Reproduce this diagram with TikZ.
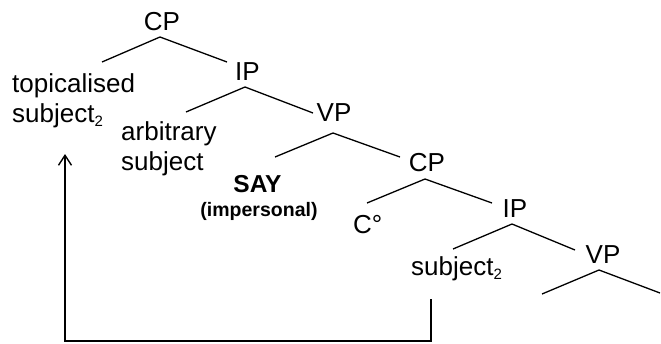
\documentclass[tikz,border=0pt]{standalone}
\usepackage{fontspec}
\setmainfont{Liberation Sans}
\usetikzlibrary{arrows.meta}
\newcommand{\subtwo}{\raisebox{-4.5pt}{\fontsize{15}{15}\selectfont 2}}
\tikzset{
  lbl/.style={inner sep=0pt, anchor=base, font=\fontsize{26}{30}\selectfont},
  lblw/.style={lbl, anchor=base west},
  branch/.style={line width=1.3pt},
  mv/.style={line width=1.4pt}
}
\begin{document}
\begin{tikzpicture}[x=1pt,y=-1pt]
\useasboundingbox (0,0) rectangle (661,343);
% labels
\node[lbl] (cp1) at (162,30) {CP};
\node[lbl] (ip1) at (247.5,80) {IP};
\node[lblw] (top1) at (12,92) {topicalised};
\node[lblw] (top2) at (12,122) {subject\subtwo};
\node[lblw] (arb1) at (121,140) {arbitrary};
\node[lblw] (arb2) at (121,170) {subject};
\node[lbl] (vp1) at (334,121) {VP};
\node[lbl, font=\fontsize{24.5}{28}\selectfont\bfseries] (say) at (257.5,192) {SAY};
\node[lbl, font=\fontsize{19.5}{22}\selectfont\bfseries] (imp) at (259,216) {(impersonal)};
\node[lbl] (cp2) at (427,171) {CP};
\node[lblw] (c0) at (353,233) {C°};
\node[lbl] (ip2) at (515,217) {IP};
\node[lblw] (subj) at (411,275) {subject\subtwo};
\node[lbl] (vp2) at (603,263) {VP};
% branch points
\coordinate (a1) at (160,37);  \coordinate (l1) at (102,62);  \coordinate (r1) at (227,62);
\coordinate (a2) at (245,87);  \coordinate (l2) at (186,112); \coordinate (r2) at (313,113);
\coordinate (a3) at (333,133); \coordinate (l3) at (275,157); \coordinate (r3) at (400,157);
\coordinate (a4) at (425,179); \coordinate (l4) at (367,203); \coordinate (r4) at (492,203);
\coordinate (a5) at (512,224); \coordinate (l5) at (453,249); \coordinate (r5) at (575,250);
\coordinate (a6) at (599,270); \coordinate (l6) at (542,294); \coordinate (r6) at (660,293);
\draw[branch] (l1) -- (a1) -- (r1);
\draw[branch] (l2) -- (a2) -- (r2);
\draw[branch] (l3) -- (a3) -- (r3);
\draw[branch] (l4) -- (a4) -- (r4);
\draw[branch] (l5) -- (a5) -- (r5);
\draw[branch] (l6) -- (a6) -- (r6);
% movement arrow
\coordinate (mstart) at (431,299);
\coordinate (mtip) at (65,154);
\draw[mv, -{Straight Barb[length=10pt,width=13pt,line width=1.4pt]}]
  (mstart) -- (431,341) -| (mtip);
\end{tikzpicture}
\end{document}
